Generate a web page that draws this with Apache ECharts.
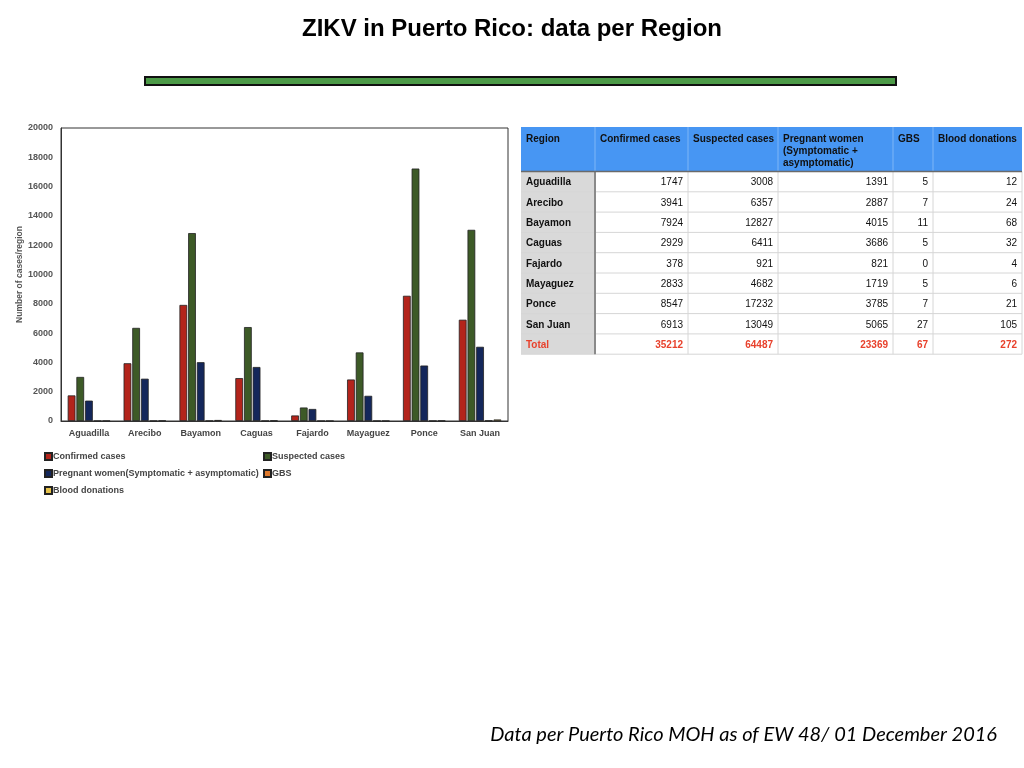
<!DOCTYPE html>
<html><head><meta charset="utf-8">
<script src="https://cdn.jsdelivr.net/npm/echarts@6/dist/echarts.min.js"></script>
<style>html,body{margin:0;padding:0;background:#fff}#c{width:1024px;height:768px}</style>
</head><body><div id="c"></div>
<script>
const regions = ['Aguadilla','Arecibo','Bayamon','Caguas','Fajardo','Mayaguez','Ponce','San Juan'];
const confirmed = [1747,3941,7924,2929,378,2833,8547,6913];
const suspected = [3008,6357,12827,6411,921,4682,17232,13049];
const pregnant = [1391,2887,4015,3686,821,1719,3785,5065];
const gbs = [5,7,11,5,0,5,7,27];
const blood = [12,24,68,32,4,6,21,105];
const totals = [35212,64487,23369,67,272];
const seriesNames = ['Confirmed cases','Suspected cases','Pregnant women(Symptomatic + asymptomatic)','GBS','Blood donations'];
const tableHeaders = ['Region','Confirmed cases','Suspected cases','Pregnant women\n(Symptomatic +\nasymptomatic)','GBS','Blood donations'];
const yTicks = [0,2000,4000,6000,8000,10000,12000,14000,16000,18000,20000];

const colors = ['#b3241b','#3d5a27','#14275b','#e07a2c','#e6c24b'];
const seriesData = [confirmed, suspected, pregnant, gbs, blood];

// table layout
const colX = [521,595,688,778,893,933,1022];
const headTop = 127, headBot = 171.5, rowH = 20.3;
const FONT = 'Liberation Sans, Arial, sans-serif';
const g = [];
g.push({type:'rect', shape:{x:colX[0], y:headTop, width:colX[6]-colX[0], height:headBot-headTop}, style:{fill:'#4796F3'}, z:1});
const nRows = regions.length + 1;
g.push({type:'rect', shape:{x:colX[0], y:headBot, width:colX[1]-colX[0], height:nRows*rowH}, style:{fill:'#d9d9d9'}, z:1});
tableHeaders.forEach((h,i)=>{
  g.push({type:'text', style:{text:h, x:colX[i]+5, y:headTop+6, fill:'#111', font:'bold 10px '+FONT, lineHeight:12, textVerticalAlign:'top'}, z:3});
});
for (let i=1;i<6;i++) g.push({type:'line', shape:{x1:colX[i], y1:headTop, x2:colX[i], y2:headBot}, style:{stroke:'#7fb6f7', lineWidth:1}, z:2});
const rowsVals = regions.map((r,k)=>[confirmed[k],suspected[k],pregnant[k],gbs[k],blood[k]]);
rowsVals.push(totals);
const rowLabels = regions.concat(['Total']);
rowLabels.forEach((lab,k)=>{
  const yTop = headBot + k*rowH;
  const isTot = k === regions.length;
  const fill = isTot ? '#e8412c' : '#111';
  const cy = yTop + rowH/2 + 1;
  g.push({type:'line', shape:{x1:colX[0], y1:yTop+rowH, x2:colX[6], y2:yTop+rowH}, style:{stroke:'#d6d6d6', lineWidth:1}, z:2});
  g.push({type:'text', style:{text:lab, x:colX[0]+5, y:cy, fill:fill, font:'bold 10px '+FONT, textVerticalAlign:'middle'}, z:3});
  rowsVals[k].forEach((v,j)=>{
    g.push({type:'text', style:{text:String(v), x:colX[j+2]-5, y:cy, fill:fill, font:(isTot?'bold ':'')+'10px '+FONT, textAlign:'right', textVerticalAlign:'middle'}, z:3});
  });
});
for (let i=2;i<7;i++) g.push({type:'line', shape:{x1:colX[i], y1:headBot, x2:colX[i], y2:headBot+nRows*rowH}, style:{stroke:'#d6d6d6', lineWidth:1}, z:2});
g.push({type:'line', shape:{x1:colX[1], y1:headBot, x2:colX[1], y2:headBot+nRows*rowH}, style:{stroke:'#8a8a8a', lineWidth:2}, z:2});
g.push({type:'line', shape:{x1:colX[0], y1:headBot, x2:colX[6], y2:headBot}, style:{stroke:'#6a6a6a', lineWidth:1.5}, z:2});

g.push({type:'text', style:{text:'ZIKV in Puerto Rico: data per Region', x:512, y:29, fill:'#000', font:'bold 24px '+FONT, textAlign:'center', textVerticalAlign:'middle'}, z:3});
g.push({type:'rect', shape:{x:145, y:77, width:751, height:8}, style:{fill:'#4c9a47', stroke:'#111', lineWidth:2}, z:3});
g.push({type:'text', style:{text:'Data per Puerto Rico MOH as of EW 48/ 01 December 2016', x:997, y:735, fill:'#000', font:'italic 20px Lato, "Open Sans", sans-serif', textAlign:'right', textVerticalAlign:'middle'}, z:3});

const chart = echarts.init(document.getElementById('c'));
chart.setOption({
  animation:false,
  textStyle:{fontFamily:FONT},
  grid:{left:61, right:516, top:128, bottom:347, show:true, borderColor:'#333', borderWidth:1},
  xAxis:{type:'category', data:regions, axisTick:{show:false}, axisLine:{lineStyle:{color:'#333'}},
    axisLabel:{color:'#444', fontWeight:'bold', fontSize:9, margin:8, interval:0}},
  yAxis:{type:'value', min:yTicks[0], max:yTicks[yTicks.length-1], interval:2000, splitLine:{show:false},
    axisLine:{show:true, lineStyle:{color:'#333'}}, axisTick:{show:false},
    axisLabel:{color:'#555', fontWeight:'bold', fontSize:9, margin:8, formatter:v=>String(v)},
    name:'Number of cases/region', nameLocation:'middle', nameGap:37, nameRotate:90,
    nameTextStyle:{color:'#555', fontWeight:'bold', fontSize:8.5}},
  legend:[
    {left:39, top:447, orient:'vertical', itemGap:8, itemWidth:7, itemHeight:7, icon:'rect',
     data:[seriesNames[0],seriesNames[2],seriesNames[4]], textStyle:{color:'#444', fontWeight:'bold', fontSize:9, padding:[0,0,0,-4]}},
    {left:258, top:447, orient:'vertical', itemGap:8, itemWidth:7, itemHeight:7, icon:'rect',
     data:[seriesNames[1],seriesNames[3]], textStyle:{color:'#444', fontWeight:'bold', fontSize:9, padding:[0,0,0,-4]}}
  ],
  series: seriesNames.map((n,i)=>({
    name:n, type:'bar', data:seriesData[i], barGap:'12%', barCategoryGap:'24%',
    itemStyle:{color:colors[i], borderColor:'#222', borderWidth:0.8}
  })),
  graphic:g
});
</script></body></html>
